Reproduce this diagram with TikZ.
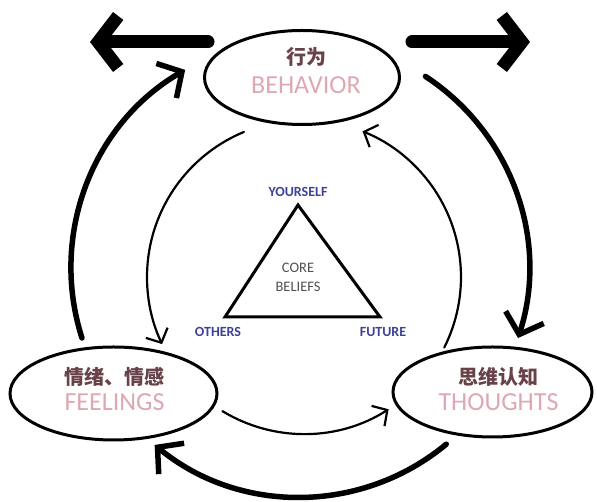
\documentclass[tikz,border=0pt]{standalone}
\usepackage{fontspec}
\setmainfont{Carlito}
\newfontfamily\cjk{Noto Sans CJK SC}
\usetikzlibrary{arrows.meta}
\usetikzlibrary{positioning}
\usetikzlibrary{shapes.geometric}
\definecolor{pinktxt}{RGB}{222,168,178}
\definecolor{zhtxt}{RGB}{104,66,70}
\definecolor{bluetxt}{RGB}{62,66,150}
\definecolor{coretxt}{RGB}{80,80,80}

\begin{document}
\begin{tikzpicture}[x=1pt,y=1pt,node distance=26pt,line cap=round]
 \tikzstyle{state node}=[ellipse,draw,line width=3pt,inner sep=0]
 \tikzstyle{zh node}=[font=\cjk\bfseries\fontsize{20}{22}\selectfont,text=zhtxt,inner sep=0]
 \tikzstyle{en node}=[font=\fontsize{26}{28}\selectfont,text=pinktxt,inner sep=0]
 \tikzset{
 	side node/.style={font=\bfseries\fontsize{14}{16}\selectfont,text=bluetxt,inner sep=0},
 	core node/.style={font=\fontsize{14.5}{19}\selectfont,text=coretxt,align=center,inner sep=0},
 	fat arrow/.style={line width=13pt,-{Straight Barb[length=20pt,width=52pt]}},
 	outer arrow/.style={line width=5.5pt,-{Straight Barb[length=18pt,width=40pt]}},
 	inner arrow/.style={line width=2.2pt,-{Straight Barb[length=11pt,width=24pt]}}
 }
 \useasboundingbox (0,0) rectangle (597,502);

       \node[state node,minimum width=195pt,minimum height=94pt] (B) at (302,424.5) {};
       \node[state node,minimum width=207pt,minimum height=93pt] (F) at (113.5,108.5) {};
       \node[state node,minimum width=199pt,minimum height=90pt] (T) at (492.5,110) {};

       \node[zh node] (Bzh) at (306,445) {行为};
       \node[en node] (Ben) [below of=Bzh, node distance=28pt] {BEHAVIOR};
       \node[zh node] (Fzh) at (114.5,125) {情绪、情感};
       \node[en node] (Fen) [below of=Fzh, node distance=25pt] {FEELINGS};
       \node[zh node] (Tzh) at (498.5,125) {思维认知};
       \node[en node] (Ten) [below of=Tzh, node distance=25pt] {THOUGHTS};

       % core beliefs triangle
       \coordinate (y) at (298,297);
       \coordinate (o) at (225,185);
       \coordinate (f) at (380,185);
       \draw[line width=3pt,line join=miter] (y) -- (o) -- (f) -- cycle;
       \node[side node] (yl) [above of=y, node distance=13pt] {YOURSELF};
       \node[side node] (ol) at (218,170) {OTHERS};
       \node[side node] (fl) at (383,170) {FUTURE};
       \node[core node] (core) at (298,225) {CORE\\BELIEFS};

       % way out
       \coordinate (bl) at (208,460);
       \coordinate (tl) at (90,460);
       \coordinate (br) at (412,460);
       \coordinate (tr) at (530,460);
       \draw[fat arrow] (bl) -- (tl);
       \draw[fat arrow] (br) -- (tr);

       % outer loop
       \coordinate (hub) at (300,234);
       \draw[outer arrow] ([shift={(197.8:229pt)}]hub) arc[start angle=197.8,end angle=120.1,radius=229pt];
       \draw[outer arrow] ([shift={(56.8:229pt)}]hub) arc[start angle=56.8,end angle=-17.8,radius=229pt];
       \draw[outer arrow] ([shift={(-50.3:229pt)}]hub) arc[start angle=-50.3,end angle=-129.4,radius=229pt];

       % inner loop
       \coordinate (in) at (304,225);
       \draw[inner arrow] ([shift={(112.5:157pt)}]in) arc[start angle=112.5,end angle=205.3,radius=157pt];
       \draw[inner arrow] ([shift={(238.7:157pt)}]in) arc[start angle=238.7,end angle=302.6,radius=157pt];
       \draw[inner arrow] ([shift={(-26.7:157pt)}]in) arc[start angle=-26.7,end angle=68.1,radius=157pt];
 \end{tikzpicture}
\end{document}
